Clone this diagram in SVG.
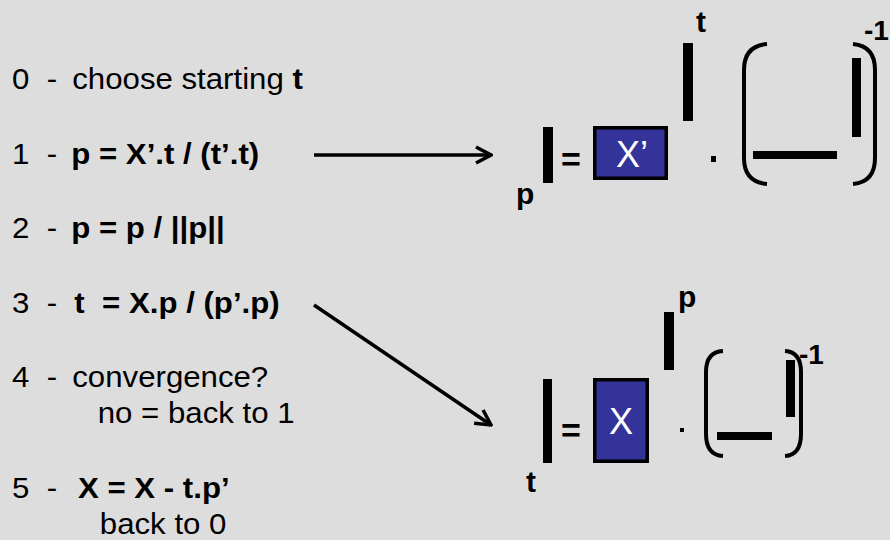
<svg xmlns="http://www.w3.org/2000/svg" width="890" height="540" viewBox="0 0 890 540">
  <style>
    .step { font-family: "Liberation Sans", Arial, sans-serif; font-size: 30px; fill: #000; }
    .b { font-weight: bold; }
    .lbl { font-family: "Liberation Sans", Arial, sans-serif; font-size: 30px; font-weight: bold; fill: #000; }
    .exp { font-family: "Liberation Sans", Arial, sans-serif; font-size: 28px; font-weight: bold; fill: #000; }
    .eq { font-family: "Liberation Sans", Arial, sans-serif; font-size: 34px; font-weight: bold; fill: #000; }
    .mat { font-family: "Liberation Sans", Arial, sans-serif; font-size: 36px; fill: #fff; text-anchor: middle; }
    .box { fill: #333399; stroke: #000; stroke-width: 3.5; }
    .bar { fill: #000; }
    .paren { fill: none; stroke: #000; stroke-width: 4; stroke-linecap: butt; }
    .conn { fill: none; stroke: #000; stroke-width: 3.5; }
  </style>
  <defs>
    <marker id="chev" markerUnits="userSpaceOnUse" viewBox="-18 -10 20 20" markerWidth="20" markerHeight="20" refX="0" refY="0" orient="auto">
      <path d="M-15,-8 L0,0 L-15,8" fill="none" stroke="#000" stroke-width="3.5" stroke-linejoin="miter"/>
    </marker>
  </defs>

  <rect width="890" height="540" fill="#dddddd"/>

  <!-- algorithm steps -->
  <g id="steps" transform="scale(1.04 1)">
    <g id="step0">
      <text class="step" x="11.5" y="89">0</text>
      <text class="step" x="45" y="89">-</text>
      <text class="step" x="69.5" y="89">choose starting <tspan class="b">t</tspan></text>
    </g>
    <g id="step1">
      <text class="step" x="11.5" y="164">1</text>
      <text class="step" x="45" y="164">-</text>
      <text class="step b" x="68.5" y="164">p = X’.t / (t’.t)</text>
    </g>
    <g id="step2">
      <text class="step" x="11.5" y="238">2</text>
      <text class="step" x="45" y="238">-</text>
      <text class="step b" x="68.5" y="238">p = p / ||p||</text>
    </g>
    <g id="step3">
      <text class="step" x="11.5" y="313">3</text>
      <text class="step" x="45" y="313">-</text>
      <text class="step b" x="71.5" y="313" xml:space="preserve">t  = X.p / (p’.p)</text>
    </g>
    <g id="step4">
      <text class="step" x="11.5" y="387">4</text>
      <text class="step" x="45" y="387">-</text>
      <text class="step" x="69.5" y="387">convergence?</text>
      <text class="step" x="94" y="423">no = back to 1</text>
    </g>
    <g id="step5">
      <text class="step" x="11.5" y="498">5</text>
      <text class="step" x="45" y="498">-</text>
      <text class="step b" x="75" y="498">X = X - t.p’</text>
      <text class="step" x="96" y="534">back to 0</text>
    </g>
  </g>

  <!-- matrix form of step 1: p = X' . t (t' t)^-1 -->
  <g id="eq-p">
    <rect class="bar" x="543" y="127" width="10" height="56"/>
    <text class="lbl" x="516" y="204">p</text>
    <text class="eq" x="561" y="171">=</text>
    <rect class="box" x="594.75" y="127.75" width="71.5" height="50.5"/>
    <text class="mat" x="632" y="167">X’</text>
    <rect class="bar" x="683" y="43" width="10" height="78"/>
    <text class="lbl" x="696" y="32">t</text>
    <rect class="bar" x="711" y="156" width="5" height="6"/>
    <path class="paren" d="M767,44 Q744,46 744,70 L744,158 Q744,182 767,184"/>
    <rect class="bar" x="753" y="151" width="84" height="8"/>
    <rect class="bar" x="852" y="58" width="9" height="79"/>
    <path class="paren" d="M853,44 Q875,46 875,70 L875,158 Q875,182 853,184"/>
    <text class="exp" x="864" y="40">-1</text>
  </g>

  <!-- matrix form of step 3: t = X . p (p' p)^-1 -->
  <g id="eq-t">
    <rect class="bar" x="543" y="379" width="9" height="84"/>
    <text class="lbl" x="526" y="492">t</text>
    <text class="eq" x="561" y="442">=</text>
    <rect class="box" x="594.75" y="379.75" width="52.5" height="81.5"/>
    <text class="mat" x="621" y="434">X</text>
    <rect class="bar" x="664" y="312" width="10" height="58"/>
    <text class="lbl" x="678" y="307">p</text>
    <rect class="bar" x="680" y="428" width="4" height="4"/>
    <path class="paren" d="M723,351 Q706,352 706,372 L706,434 Q706,455 723,456"/>
    <rect class="bar" x="717" y="432" width="55" height="8"/>
    <rect class="bar" x="786" y="360" width="9" height="57"/>
    <path class="paren" d="M785,351 Q801,352 801,372 L801,434 Q801,455 785,456"/>
    <text class="exp" x="799" y="364">-1</text>
  </g>

  <!-- connectors from steps to their matrix forms -->
  <g id="connectors">
    <line class="conn" x1="314" y1="155" x2="491" y2="155" marker-end="url(#chev)"/>
    <line class="conn" x1="314" y1="305" x2="491" y2="425" marker-end="url(#chev)"/>
  </g>
</svg>
